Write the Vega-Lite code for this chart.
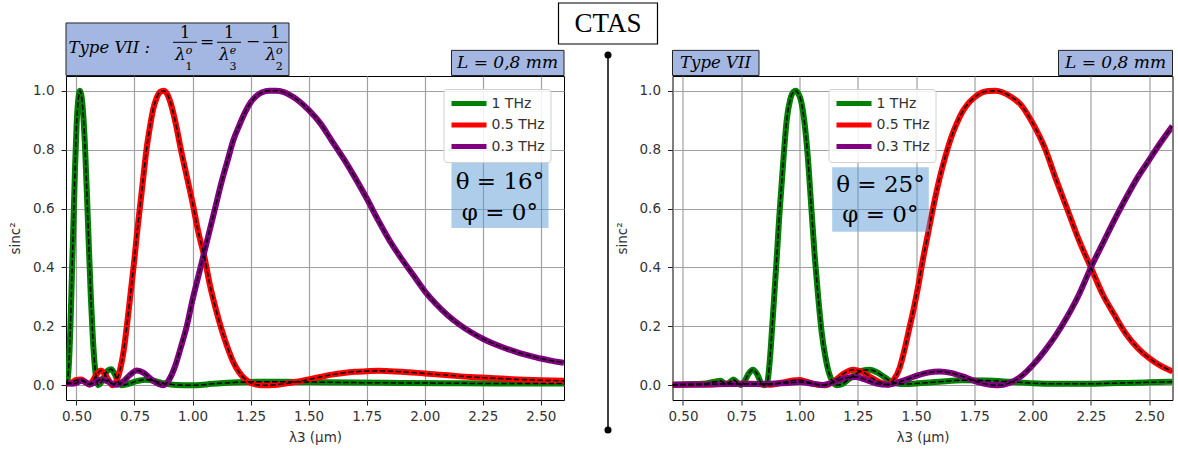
{
"$schema": "https://vega.github.io/schema/vega-lite/v6.json",
"background": "white",
"padding": {"left": 8, "top": 1, "right": 5.5, "bottom": 5},
"autosize": {"type": "pad"},
"bounds": "flush",
"spacing": 108.5,
"config": {
 "view": {"stroke": "black", "strokeWidth": 1},
 "axis": {"grid": true, "gridColor": "#a0a0a0", "gridWidth": 1.2, "domain": false, "tickColor": "#222", "tickSize": 5, "tickWidth": 1, "labelFont": "DejaVu Sans", "labelFontSize": 13.5, "labelColor": "#333", "titleFont": "DejaVu Sans", "titleFontSize": 13.5, "titleFontWeight": "normal", "titleColor": "#333"},
 "axisX": {"labelPadding": 4, "titlePadding": 8},
 "axisY": {"labelPadding": 7, "titlePadding": 10}
},
"datasets": {
 "left": [
  {"f":"1 THz","x":0.455,"v":0.005},{"f":"1 THz","x":0.462,"v":0.02},{"f":"1 THz","x":0.468,"v":0.08},{"f":"1 THz","x":0.474,"v":0.2},{"f":"1 THz","x":0.48,"v":0.36},{"f":"1 THz","x":0.487,"v":0.55},{"f":"1 THz","x":0.494,"v":0.74},{"f":"1 THz","x":0.501,"v":0.89},{"f":"1 THz","x":0.508,"v":0.97},{"f":"1 THz","x":0.515,"v":1.0},{"f":"1 THz","x":0.522,"v":0.98},{"f":"1 THz","x":0.53,"v":0.91},{"f":"1 THz","x":0.538,"v":0.79},{"f":"1 THz","x":0.546,"v":0.63},{"f":"1 THz","x":0.554,"v":0.46},{"f":"1 THz","x":0.562,"v":0.3},{"f":"1 THz","x":0.57,"v":0.17},{"f":"1 THz","x":0.578,"v":0.075},{"f":"1 THz","x":0.586,"v":0.02},{"f":"1 THz","x":0.594,"v":0.0},{"f":"1 THz","x":0.605,"v":0.008},{"f":"1 THz","x":0.62,"v":0.03},{"f":"1 THz","x":0.635,"v":0.05},{"f":"1 THz","x":0.65,"v":0.054},{"f":"1 THz","x":0.665,"v":0.038},{"f":"1 THz","x":0.68,"v":0.012},{"f":"1 THz","x":0.695,"v":0.0},{"f":"1 THz","x":0.72,"v":0.004},{"f":"1 THz","x":0.76,"v":0.014},{"f":"1 THz","x":0.8,"v":0.019},{"f":"1 THz","x":0.84,"v":0.014},{"f":"1 THz","x":0.88,"v":0.006},{"f":"1 THz","x":0.93,"v":0.001},{"f":"1 THz","x":1.0,"v":0.0},{"f":"1 THz","x":1.06,"v":0.003},{"f":"1 THz","x":1.12,"v":0.007},{"f":"1 THz","x":1.2,"v":0.01},{"f":"1 THz","x":1.3,"v":0.012},{"f":"1 THz","x":1.4,"v":0.012},{"f":"1 THz","x":1.5,"v":0.011},{"f":"1 THz","x":1.7,"v":0.009},{"f":"1 THz","x":1.9,"v":0.008},{"f":"1 THz","x":2.1,"v":0.007},{"f":"1 THz","x":2.3,"v":0.006},{"f":"1 THz","x":2.6,"v":0.006},
  {"f":"0.5 THz","x":0.455,"v":0.004},{"f":"0.5 THz","x":0.48,"v":0.01},{"f":"0.5 THz","x":0.5,"v":0.018},{"f":"0.5 THz","x":0.52,"v":0.02},{"f":"0.5 THz","x":0.54,"v":0.01},{"f":"0.5 THz","x":0.555,"v":0.003},{"f":"0.5 THz","x":0.57,"v":0.015},{"f":"0.5 THz","x":0.59,"v":0.04},{"f":"0.5 THz","x":0.605,"v":0.05},{"f":"0.5 THz","x":0.62,"v":0.04},{"f":"0.5 THz","x":0.64,"v":0.015},{"f":"0.5 THz","x":0.655,"v":0.0},{"f":"0.5 THz","x":0.668,"v":0.008},{"f":"0.5 THz","x":0.68,"v":0.03},{"f":"0.5 THz","x":0.69,"v":0.06},{"f":"0.5 THz","x":0.7,"v":0.1},{"f":"0.5 THz","x":0.71,"v":0.155},{"f":"0.5 THz","x":0.72,"v":0.22},{"f":"0.5 THz","x":0.73,"v":0.29},{"f":"0.5 THz","x":0.74,"v":0.36},{"f":"0.5 THz","x":0.75,"v":0.43},{"f":"0.5 THz","x":0.76,"v":0.51},{"f":"0.5 THz","x":0.77,"v":0.58},{"f":"0.5 THz","x":0.78,"v":0.65},{"f":"0.5 THz","x":0.79,"v":0.72},{"f":"0.5 THz","x":0.8,"v":0.79},{"f":"0.5 THz","x":0.815,"v":0.87},{"f":"0.5 THz","x":0.83,"v":0.935},{"f":"0.5 THz","x":0.845,"v":0.975},{"f":"0.5 THz","x":0.86,"v":0.996},{"f":"0.5 THz","x":0.875,"v":1.0},{"f":"0.5 THz","x":0.89,"v":0.99},{"f":"0.5 THz","x":0.905,"v":0.96},{"f":"0.5 THz","x":0.93,"v":0.88},{"f":"0.5 THz","x":0.95,"v":0.8},{"f":"0.5 THz","x":0.975,"v":0.71},{"f":"0.5 THz","x":1.0,"v":0.62},{"f":"0.5 THz","x":1.025,"v":0.52},{"f":"0.5 THz","x":1.05,"v":0.44},{"f":"0.5 THz","x":1.075,"v":0.34},{"f":"0.5 THz","x":1.1,"v":0.26},{"f":"0.5 THz","x":1.125,"v":0.19},{"f":"0.5 THz","x":1.15,"v":0.13},{"f":"0.5 THz","x":1.175,"v":0.08},{"f":"0.5 THz","x":1.2,"v":0.045},{"f":"0.5 THz","x":1.225,"v":0.022},{"f":"0.5 THz","x":1.25,"v":0.008},{"f":"0.5 THz","x":1.275,"v":0.002},{"f":"0.5 THz","x":1.3,"v":0.0},{"f":"0.5 THz","x":1.35,"v":0.001},{"f":"0.5 THz","x":1.4,"v":0.006},{"f":"0.5 THz","x":1.45,"v":0.012},{"f":"0.5 THz","x":1.5,"v":0.02},{"f":"0.5 THz","x":1.55,"v":0.028},{"f":"0.5 THz","x":1.6,"v":0.036},{"f":"0.5 THz","x":1.65,"v":0.042},{"f":"0.5 THz","x":1.7,"v":0.046},{"f":"0.5 THz","x":1.75,"v":0.048},{"f":"0.5 THz","x":1.8,"v":0.049},{"f":"0.5 THz","x":1.85,"v":0.048},{"f":"0.5 THz","x":1.9,"v":0.046},{"f":"0.5 THz","x":2.0,"v":0.04},{"f":"0.5 THz","x":2.1,"v":0.034},{"f":"0.5 THz","x":2.2,"v":0.028},{"f":"0.5 THz","x":2.3,"v":0.024},{"f":"0.5 THz","x":2.4,"v":0.02},{"f":"0.5 THz","x":2.5,"v":0.017},{"f":"0.5 THz","x":2.6,"v":0.015},
  {"f":"0.3 THz","x":0.455,"v":0.01},{"f":"0.3 THz","x":0.48,"v":0.005},{"f":"0.3 THz","x":0.5,"v":0.008},{"f":"0.3 THz","x":0.52,"v":0.015},{"f":"0.3 THz","x":0.54,"v":0.01},{"f":"0.3 THz","x":0.557,"v":0.003},{"f":"0.3 THz","x":0.58,"v":0.01},{"f":"0.3 THz","x":0.605,"v":0.02},{"f":"0.3 THz","x":0.63,"v":0.015},{"f":"0.3 THz","x":0.655,"v":0.005},{"f":"0.3 THz","x":0.675,"v":0.002},{"f":"0.3 THz","x":0.7,"v":0.012},{"f":"0.3 THz","x":0.73,"v":0.035},{"f":"0.3 THz","x":0.76,"v":0.05},{"f":"0.3 THz","x":0.79,"v":0.042},{"f":"0.3 THz","x":0.82,"v":0.022},{"f":"0.3 THz","x":0.85,"v":0.006},{"f":"0.3 THz","x":0.875,"v":0.0},{"f":"0.3 THz","x":0.9,"v":0.02},{"f":"0.3 THz","x":0.925,"v":0.065},{"f":"0.3 THz","x":0.95,"v":0.13},{"f":"0.3 THz","x":0.975,"v":0.2},{"f":"0.3 THz","x":1.0,"v":0.29},{"f":"0.3 THz","x":1.025,"v":0.37},{"f":"0.3 THz","x":1.05,"v":0.45},{"f":"0.3 THz","x":1.075,"v":0.53},{"f":"0.3 THz","x":1.1,"v":0.61},{"f":"0.3 THz","x":1.125,"v":0.69},{"f":"0.3 THz","x":1.15,"v":0.76},{"f":"0.3 THz","x":1.175,"v":0.83},{"f":"0.3 THz","x":1.2,"v":0.88},{"f":"0.3 THz","x":1.225,"v":0.925},{"f":"0.3 THz","x":1.25,"v":0.96},{"f":"0.3 THz","x":1.275,"v":0.982},{"f":"0.3 THz","x":1.3,"v":0.995},{"f":"0.3 THz","x":1.33,"v":1.0},{"f":"0.3 THz","x":1.36,"v":1.0},{"f":"0.3 THz","x":1.39,"v":0.996},{"f":"0.3 THz","x":1.42,"v":0.985},{"f":"0.3 THz","x":1.45,"v":0.97},{"f":"0.3 THz","x":1.5,"v":0.935},{"f":"0.3 THz","x":1.55,"v":0.89},{"f":"0.3 THz","x":1.6,"v":0.83},{"f":"0.3 THz","x":1.65,"v":0.77},{"f":"0.3 THz","x":1.7,"v":0.705},{"f":"0.3 THz","x":1.75,"v":0.635},{"f":"0.3 THz","x":1.8,"v":0.56},{"f":"0.3 THz","x":1.85,"v":0.49},{"f":"0.3 THz","x":1.9,"v":0.43},{"f":"0.3 THz","x":1.95,"v":0.375},{"f":"0.3 THz","x":2.0,"v":0.32},{"f":"0.3 THz","x":2.05,"v":0.275},{"f":"0.3 THz","x":2.1,"v":0.237},{"f":"0.3 THz","x":2.15,"v":0.206},{"f":"0.3 THz","x":2.2,"v":0.18},{"f":"0.3 THz","x":2.25,"v":0.158},{"f":"0.3 THz","x":2.3,"v":0.14},{"f":"0.3 THz","x":2.35,"v":0.125},{"f":"0.3 THz","x":2.4,"v":0.112},{"f":"0.3 THz","x":2.45,"v":0.101},{"f":"0.3 THz","x":2.5,"v":0.091},{"f":"0.3 THz","x":2.55,"v":0.083},{"f":"0.3 THz","x":2.6,"v":0.076}
 ],
 "right": [
  {"f":"1 THz","x":0.455,"v":0.002},{"f":"1 THz","x":0.5,"v":0.003},{"f":"1 THz","x":0.55,"v":0.004},{"f":"1 THz","x":0.6,"v":0.006},{"f":"1 THz","x":0.635,"v":0.012},{"f":"1 THz","x":0.66,"v":0.015},{"f":"1 THz","x":0.685,"v":0.005},{"f":"1 THz","x":0.7,"v":0.01},{"f":"1 THz","x":0.716,"v":0.02},{"f":"1 THz","x":0.732,"v":0.01},{"f":"1 THz","x":0.748,"v":0.001},{"f":"1 THz","x":0.765,"v":0.015},{"f":"1 THz","x":0.782,"v":0.04},{"f":"1 THz","x":0.8,"v":0.053},{"f":"1 THz","x":0.818,"v":0.038},{"f":"1 THz","x":0.835,"v":0.008},{"f":"1 THz","x":0.848,"v":0.0},{"f":"1 THz","x":0.862,"v":0.012},{"f":"1 THz","x":0.872,"v":0.08},{"f":"1 THz","x":0.882,"v":0.19},{"f":"1 THz","x":0.892,"v":0.31},{"f":"1 THz","x":0.902,"v":0.43},{"f":"1 THz","x":0.912,"v":0.56},{"f":"1 THz","x":0.922,"v":0.67},{"f":"1 THz","x":0.932,"v":0.78},{"f":"1 THz","x":0.945,"v":0.9},{"f":"1 THz","x":0.96,"v":0.97},{"f":"1 THz","x":0.975,"v":0.997},{"f":"1 THz","x":0.985,"v":1.0},{"f":"1 THz","x":0.995,"v":0.99},{"f":"1 THz","x":1.005,"v":0.97},{"f":"1 THz","x":1.02,"v":0.9},{"f":"1 THz","x":1.035,"v":0.78},{"f":"1 THz","x":1.05,"v":0.61},{"f":"1 THz","x":1.065,"v":0.44},{"f":"1 THz","x":1.08,"v":0.3},{"f":"1 THz","x":1.095,"v":0.18},{"f":"1 THz","x":1.11,"v":0.1},{"f":"1 THz","x":1.125,"v":0.045},{"f":"1 THz","x":1.14,"v":0.015},{"f":"1 THz","x":1.16,"v":0.0},{"f":"1 THz","x":1.185,"v":0.005},{"f":"1 THz","x":1.21,"v":0.02},{"f":"1 THz","x":1.24,"v":0.038},{"f":"1 THz","x":1.27,"v":0.05},{"f":"1 THz","x":1.3,"v":0.053},{"f":"1 THz","x":1.33,"v":0.045},{"f":"1 THz","x":1.36,"v":0.03},{"f":"1 THz","x":1.39,"v":0.014},{"f":"1 THz","x":1.42,"v":0.006},{"f":"1 THz","x":1.45,"v":0.004},{"f":"1 THz","x":1.5,"v":0.006},{"f":"1 THz","x":1.6,"v":0.012},{"f":"1 THz","x":1.7,"v":0.017},{"f":"1 THz","x":1.8,"v":0.016},{"f":"1 THz","x":1.9,"v":0.012},{"f":"1 THz","x":2.0,"v":0.007},{"f":"1 THz","x":2.1,"v":0.005},{"f":"1 THz","x":2.2,"v":0.005},{"f":"1 THz","x":2.3,"v":0.006},{"f":"1 THz","x":2.4,"v":0.008},{"f":"1 THz","x":2.5,"v":0.01},{"f":"1 THz","x":2.6,"v":0.012},
  {"f":"0.5 THz","x":0.455,"v":0.001},{"f":"0.5 THz","x":0.6,"v":0.003},{"f":"0.5 THz","x":0.7,"v":0.005},{"f":"0.5 THz","x":0.8,"v":0.005},{"f":"0.5 THz","x":0.87,"v":0.002},{"f":"0.5 THz","x":0.93,"v":0.01},{"f":"0.5 THz","x":0.97,"v":0.016},{"f":"0.5 THz","x":1.0,"v":0.018},{"f":"0.5 THz","x":1.03,"v":0.012},{"f":"0.5 THz","x":1.07,"v":0.003},{"f":"0.5 THz","x":1.11,"v":0.0},{"f":"0.5 THz","x":1.15,"v":0.015},{"f":"0.5 THz","x":1.19,"v":0.04},{"f":"0.5 THz","x":1.23,"v":0.053},{"f":"0.5 THz","x":1.27,"v":0.045},{"f":"0.5 THz","x":1.31,"v":0.025},{"f":"0.5 THz","x":1.35,"v":0.008},{"f":"0.5 THz","x":1.38,"v":0.003},{"f":"0.5 THz","x":1.405,"v":0.02},{"f":"0.5 THz","x":1.43,"v":0.06},{"f":"0.5 THz","x":1.45,"v":0.12},{"f":"0.5 THz","x":1.47,"v":0.19},{"f":"0.5 THz","x":1.49,"v":0.26},{"f":"0.5 THz","x":1.51,"v":0.34},{"f":"0.5 THz","x":1.53,"v":0.43},{"f":"0.5 THz","x":1.55,"v":0.51},{"f":"0.5 THz","x":1.575,"v":0.61},{"f":"0.5 THz","x":1.6,"v":0.7},{"f":"0.5 THz","x":1.625,"v":0.775},{"f":"0.5 THz","x":1.65,"v":0.84},{"f":"0.5 THz","x":1.675,"v":0.89},{"f":"0.5 THz","x":1.7,"v":0.93},{"f":"0.5 THz","x":1.725,"v":0.958},{"f":"0.5 THz","x":1.75,"v":0.977},{"f":"0.5 THz","x":1.78,"v":0.993},{"f":"0.5 THz","x":1.81,"v":0.999},{"f":"0.5 THz","x":1.84,"v":1.0},{"f":"0.5 THz","x":1.87,"v":0.995},{"f":"0.5 THz","x":1.9,"v":0.983},{"f":"0.5 THz","x":1.95,"v":0.952},{"f":"0.5 THz","x":2.0,"v":0.89},{"f":"0.5 THz","x":2.05,"v":0.81},{"f":"0.5 THz","x":2.1,"v":0.7},{"f":"0.5 THz","x":2.15,"v":0.595},{"f":"0.5 THz","x":2.2,"v":0.49},{"f":"0.5 THz","x":2.25,"v":0.4},{"f":"0.5 THz","x":2.3,"v":0.31},{"f":"0.5 THz","x":2.35,"v":0.24},{"f":"0.5 THz","x":2.4,"v":0.175},{"f":"0.5 THz","x":2.45,"v":0.127},{"f":"0.5 THz","x":2.5,"v":0.092},{"f":"0.5 THz","x":2.55,"v":0.066},{"f":"0.5 THz","x":2.6,"v":0.047},
  {"f":"0.3 THz","x":0.455,"v":0.002},{"f":"0.3 THz","x":0.6,"v":0.003},{"f":"0.3 THz","x":0.7,"v":0.004},{"f":"0.3 THz","x":0.8,"v":0.004},{"f":"0.3 THz","x":0.9,"v":0.006},{"f":"0.3 THz","x":0.95,"v":0.008},{"f":"0.3 THz","x":1.0,"v":0.011},{"f":"0.3 THz","x":1.05,"v":0.006},{"f":"0.3 THz","x":1.1,"v":0.001},{"f":"0.3 THz","x":1.15,"v":0.012},{"f":"0.3 THz","x":1.2,"v":0.025},{"f":"0.3 THz","x":1.24,"v":0.028},{"f":"0.3 THz","x":1.28,"v":0.02},{"f":"0.3 THz","x":1.33,"v":0.006},{"f":"0.3 THz","x":1.38,"v":0.002},{"f":"0.3 THz","x":1.43,"v":0.012},{"f":"0.3 THz","x":1.5,"v":0.032},{"f":"0.3 THz","x":1.55,"v":0.043},{"f":"0.3 THz","x":1.6,"v":0.047},{"f":"0.3 THz","x":1.65,"v":0.042},{"f":"0.3 THz","x":1.7,"v":0.03},{"f":"0.3 THz","x":1.75,"v":0.015},{"f":"0.3 THz","x":1.8,"v":0.004},{"f":"0.3 THz","x":1.85,"v":0.0},{"f":"0.3 THz","x":1.9,"v":0.008},{"f":"0.3 THz","x":1.95,"v":0.03},{"f":"0.3 THz","x":2.0,"v":0.068},{"f":"0.3 THz","x":2.05,"v":0.115},{"f":"0.3 THz","x":2.1,"v":0.17},{"f":"0.3 THz","x":2.15,"v":0.235},{"f":"0.3 THz","x":2.2,"v":0.31},{"f":"0.3 THz","x":2.25,"v":0.4},{"f":"0.3 THz","x":2.3,"v":0.48},{"f":"0.3 THz","x":2.35,"v":0.56},{"f":"0.3 THz","x":2.4,"v":0.635},{"f":"0.3 THz","x":2.45,"v":0.705},{"f":"0.3 THz","x":2.5,"v":0.765},{"f":"0.3 THz","x":2.55,"v":0.825},{"f":"0.3 THz","x":2.6,"v":0.88}
 ]
},
"resolve": {"scale": {"x": "independent", "y": "independent", "color": "independent"}, "legend": {"color": "independent"}},
"hconcat": [
 {
  "width": 498, "height": 324,
  "data": {"name": "left"},
  "layer": [
   {"mark": {"type": "line", "strokeWidth": 6, "clip": true, "interpolate": "monotone"},
    "encoding": {
     "x": {"field": "x", "type": "quantitative", "scale": {"domain": [0.455, 2.6], "nice": false, "zero": false}, "axis": {"title": "λ3 (μm)", "values": [0.5, 0.75, 1.0, 1.25, 1.5, 1.75, 2.0, 2.25, 2.5], "format": ".2f"}},
     "y": {"field": "v", "type": "quantitative", "scale": {"domain": [-0.05, 1.05], "nice": false, "zero": false}, "axis": {"title": "sinc²", "values": [0, 0.2, 0.4, 0.6, 0.8, 1.0], "format": ".1f"}},
     "color": {"field": "f", "type": "nominal", "scale": {"domain": ["1 THz", "0.5 THz", "0.3 THz"], "range": ["#008000", "#ff0000", "#800080"]},
      "legend": {"orient": "none", "legendX": 377.5, "legendY": 13, "title": null, "symbolType": "M-2.5,0H2.5", "symbolSize": 196, "symbolStrokeWidth": 5, "symbolOffset": 11, "labelOffset": 13, "labelFont": "DejaVu Sans", "labelFontSize": 14, "labelColor": "#333", "padding": 5, "rowPadding": 0.5, "fillColor": "rgba(255,255,255,0.85)", "strokeColor": "#d0d0d0", "cornerRadius": 3}}
    }},
   {"mark": {"type": "line", "stroke": "black", "strokeWidth": 1.5, "strokeDash": [5.5, 2.4], "clip": true, "interpolate": "monotone"},
    "encoding": {"x": {"field": "x", "type": "quantitative"}, "y": {"field": "v", "type": "quantitative"}, "detail": {"field": "f", "type": "nominal"}}},
   {"data": {"values": [{}]}, "mark": {"type": "rect", "fill": "#a3b7e2", "stroke": "#222", "strokeWidth": 1, "clip": false},
    "encoding": {"x": {"datum": 0.455}, "x2": {"datum": 1.4155}, "y": {"datum": 1.0517}, "y2": {"datum": 1.23}}},
   {"data": {"values": [{}]}, "mark": {"type": "text", "text": "Type VII :", "font": "DejaVu Serif", "fontStyle": "italic", "fontSize": 16.5, "align": "left", "baseline": "middle", "clip": false},
    "encoding": {"x": {"datum": 0.4658}, "y": {"datum": 1.1451}}},
   {"data": {"values": [{}]}, "mark": {"type": "text", "text": "1", "font": "DejaVu Serif", "fontSize": 16, "align": "center", "baseline": "middle", "clip": false},
    "encoding": {"x": {"datum": 0.9676}, "y": {"datum": 1.196}}},
   {"data": {"values": [{}]}, "mark": {"type": "text", "text": "1", "font": "DejaVu Serif", "fontSize": 16, "align": "center", "baseline": "middle", "clip": false},
    "encoding": {"x": {"datum": 1.157}, "y": {"datum": 1.196}}},
   {"data": {"values": [{}]}, "mark": {"type": "text", "text": "1", "font": "DejaVu Serif", "fontSize": 16, "align": "center", "baseline": "middle", "clip": false},
    "encoding": {"x": {"datum": 1.3565}, "y": {"datum": 1.196}}},
   {"data": {"values": [{}]}, "mark": {"type": "rule", "color": "black", "strokeWidth": 1, "clip": false},
    "encoding": {"x": {"datum": 0.9159}, "x2": {"datum": 1.0193}, "y": {"datum": 1.1644}}},
   {"data": {"values": [{}]}, "mark": {"type": "rule", "color": "black", "strokeWidth": 1, "clip": false},
    "encoding": {"x": {"datum": 1.1054}, "x2": {"datum": 1.2088}, "y": {"datum": 1.1644}}},
   {"data": {"values": [{}]}, "mark": {"type": "rule", "color": "black", "strokeWidth": 1, "clip": false},
    "encoding": {"x": {"datum": 1.3048}, "x2": {"datum": 1.4082}, "y": {"datum": 1.1644}}},
   {"data": {"values": [{}]}, "mark": {"type": "text", "text": "=", "font": "DejaVu Serif", "fontSize": 17, "align": "center", "baseline": "middle", "clip": false},
    "encoding": {"x": {"datum": 1.063}, "y": {"datum": 1.1644}}},
   {"data": {"values": [{}]}, "mark": {"type": "text", "text": "−", "font": "DejaVu Serif", "fontSize": 17, "align": "center", "baseline": "middle", "clip": false},
    "encoding": {"x": {"datum": 1.2609}, "y": {"datum": 1.1644}}},
   {"data": {"values": [{}]}, "mark": {"type": "text", "text": "λ", "font": "DejaVu Serif", "fontStyle": "italic", "fontSize": 17, "align": "center", "baseline": "middle", "clip": false},
    "encoding": {"x": {"datum": 0.9482}, "y": {"datum": 1.1213}}},
   {"data": {"values": [{}]}, "mark": {"type": "text", "text": "λ", "font": "DejaVu Serif", "fontStyle": "italic", "fontSize": 17, "align": "center", "baseline": "middle", "clip": false},
    "encoding": {"x": {"datum": 1.1377}, "y": {"datum": 1.1213}}},
   {"data": {"values": [{}]}, "mark": {"type": "text", "text": "λ", "font": "DejaVu Serif", "fontStyle": "italic", "fontSize": 17, "align": "center", "baseline": "middle", "clip": false},
    "encoding": {"x": {"datum": 1.3371}, "y": {"datum": 1.1213}}},
   {"data": {"values": [{}]}, "mark": {"type": "text", "text": "o", "font": "DejaVu Serif", "fontStyle": "italic", "fontSize": 11, "align": "center", "baseline": "middle", "clip": false},
    "encoding": {"x": {"datum": 0.985}, "y": {"datum": 1.1349}}},
   {"data": {"values": [{}]}, "mark": {"type": "text", "text": "e", "font": "DejaVu Serif", "fontStyle": "italic", "fontSize": 11, "align": "center", "baseline": "middle", "clip": false},
    "encoding": {"x": {"datum": 1.1746}, "y": {"datum": 1.1349}}},
   {"data": {"values": [{}]}, "mark": {"type": "text", "text": "o", "font": "DejaVu Serif", "fontStyle": "italic", "fontSize": 11, "align": "center", "baseline": "middle", "clip": false},
    "encoding": {"x": {"datum": 1.374}, "y": {"datum": 1.1349}}},
   {"data": {"values": [{}]}, "mark": {"type": "text", "text": "1", "font": "DejaVu Serif", "fontSize": 11, "align": "center", "baseline": "middle", "clip": false},
    "encoding": {"x": {"datum": 0.985}, "y": {"datum": 1.0806}}},
   {"data": {"values": [{}]}, "mark": {"type": "text", "text": "3", "font": "DejaVu Serif", "fontSize": 11, "align": "center", "baseline": "middle", "clip": false},
    "encoding": {"x": {"datum": 1.1746}, "y": {"datum": 1.0806}}},
   {"data": {"values": [{}]}, "mark": {"type": "text", "text": "2", "font": "DejaVu Serif", "fontSize": 11, "align": "center", "baseline": "middle", "clip": false},
    "encoding": {"x": {"datum": 1.374}, "y": {"datum": 1.0806}}},
   {"data": {"values": [{}]}, "mark": {"type": "rect", "fill": "#a3b7e2", "stroke": "#222", "strokeWidth": 1, "clip": false},
    "encoding": {"x": {"datum": 2.1154}, "x2": {"datum": 2.6}, "y": {"datum": 1.0517}, "y2": {"datum": 1.137}}},
   {"data": {"values": [{}]}, "mark": {"type": "text", "text": "L = 0,8 mm", "font": "DejaVu Serif", "fontStyle": "italic", "fontSize": 17, "align": "center", "baseline": "middle", "clip": false},
    "encoding": {"x": {"datum": 2.3566}, "y": {"datum": 1.0941}}},
   {"data": {"values": [{}]}, "mark": {"type": "rect", "fill": "#5b9bd5", "fillOpacity": 0.5, "clip": false},
    "encoding": {"x": {"datum": 2.1154}, "x2": {"datum": 2.5332}, "y": {"datum": 0.534}, "y2": {"datum": 0.7546}}},
   {"data": {"values": [{}]}, "mark": {"type": "text", "text": ["θ = 16°", "φ = 0°"], "font": "DejaVu Serif", "fontSize": 23, "lineHeight": 31, "align": "center", "baseline": "middle", "clip": false},
    "encoding": {"x": {"datum": 2.324}, "y": {"datum": 0.6901}}}
  ]
 },
 {
  "width": 500, "height": 324,
  "data": {"name": "right"},
  "layer": [
   {"mark": {"type": "line", "strokeWidth": 6, "clip": true, "interpolate": "monotone"},
    "encoding": {
     "x": {"field": "x", "type": "quantitative", "scale": {"domain": [0.455, 2.6], "nice": false, "zero": false}, "axis": {"title": "λ3 (μm)", "values": [0.5, 0.75, 1.0, 1.25, 1.5, 1.75, 2.0, 2.25, 2.5], "format": ".2f"}},
     "y": {"field": "v", "type": "quantitative", "scale": {"domain": [-0.05, 1.05], "nice": false, "zero": false}, "axis": {"title": "sinc²", "values": [0, 0.2, 0.4, 0.6, 0.8, 1.0], "format": ".1f"}},
     "color": {"field": "f", "type": "nominal", "scale": {"domain": ["1 THz", "0.5 THz", "0.3 THz"], "range": ["#008000", "#ff0000", "#800080"]},
      "legend": {"orient": "none", "legendX": 156, "legendY": 13, "title": null, "symbolType": "M-2.5,0H2.5", "symbolSize": 196, "symbolStrokeWidth": 5, "symbolOffset": 11, "labelOffset": 13, "labelFont": "DejaVu Sans", "labelFontSize": 14, "labelColor": "#333", "padding": 5, "rowPadding": 0.5, "fillColor": "rgba(255,255,255,0.85)", "strokeColor": "#d0d0d0", "cornerRadius": 3}}
    }},
   {"mark": {"type": "line", "stroke": "black", "strokeWidth": 1.5, "strokeDash": [5.5, 2.4], "clip": true, "interpolate": "monotone"},
    "encoding": {"x": {"field": "x", "type": "quantitative"}, "y": {"field": "v", "type": "quantitative"}, "detail": {"field": "f", "type": "nominal"}}},
   {"data": {"values": [{}]}, "mark": {"type": "rect", "fill": "#a3b7e2", "stroke": "#222", "strokeWidth": 1, "clip": false},
    "encoding": {"x": {"datum": 0.455}, "x2": {"datum": 0.8261}, "y": {"datum": 1.0517}, "y2": {"datum": 1.137}}},
   {"data": {"values": [{}]}, "mark": {"type": "text", "text": "Type VII", "font": "DejaVu Serif", "fontStyle": "italic", "fontSize": 16.5, "align": "center", "baseline": "middle", "clip": false},
    "encoding": {"x": {"datum": 0.6395}, "y": {"datum": 1.0941}}},
   {"data": {"values": [{}]}, "mark": {"type": "rect", "fill": "#a3b7e2", "stroke": "#222", "strokeWidth": 1, "clip": false},
    "encoding": {"x": {"datum": 2.1109}, "x2": {"datum": 2.6}, "y": {"datum": 1.0517}, "y2": {"datum": 1.137}}},
   {"data": {"values": [{}]}, "mark": {"type": "text", "text": "L = 0,8 mm", "font": "DejaVu Serif", "fontStyle": "italic", "fontSize": 17, "align": "center", "baseline": "middle", "clip": false},
    "encoding": {"x": {"datum": 2.3555}, "y": {"datum": 1.0941}}},
   {"data": {"values": [{}]}, "mark": {"type": "rect", "fill": "#5b9bd5", "fillOpacity": 0.5, "clip": false},
    "encoding": {"x": {"datum": 1.1401}, "x2": {"datum": 1.5546}, "y": {"datum": 0.5214}, "y2": {"datum": 0.74}}},
   {"data": {"values": [{}]}, "mark": {"type": "text", "text": ["θ = 25°", "φ = 0°"], "font": "DejaVu Serif", "fontSize": 23, "lineHeight": 30, "align": "center", "baseline": "middle", "clip": false},
    "encoding": {"x": {"datum": 1.347}, "y": {"datum": 0.68}}},
   {"data": {"values": [{}]}, "mark": {"type": "rule", "color": "black", "strokeWidth": 1.5, "clip": false},
    "encoding": {"x": {"datum": 0.1783}, "y": {"datum": 1.1213}, "y2": {"datum": -0.152}}},
   {"data": {"values": [{}]}, "mark": {"type": "point", "filled": true, "color": "black", "size": 50, "opacity": 1, "clip": false},
    "encoding": {"x": {"datum": 0.1783}, "y": {"datum": 1.1213}}},
   {"data": {"values": [{}]}, "mark": {"type": "point", "filled": true, "color": "black", "size": 50, "opacity": 1, "clip": false},
    "encoding": {"x": {"datum": 0.1783}, "y": {"datum": -0.152}}},
   {"data": {"values": [{}]}, "mark": {"type": "rect", "fill": "white", "stroke": "black", "strokeWidth": 1.2, "clip": false},
    "encoding": {"x": {"datum": -0.0341}, "x2": {"datum": 0.3906}, "y": {"datum": 1.1586}, "y2": {"datum": 1.2978}}},
   {"data": {"values": [{}]}, "mark": {"type": "text", "text": "CTAS", "font": "Liberation Serif", "fontSize": 27, "align": "center", "baseline": "middle", "clip": false},
    "encoding": {"x": {"datum": 0.1783}, "y": {"datum": 1.2265}}}
  ]
 }
]
}
